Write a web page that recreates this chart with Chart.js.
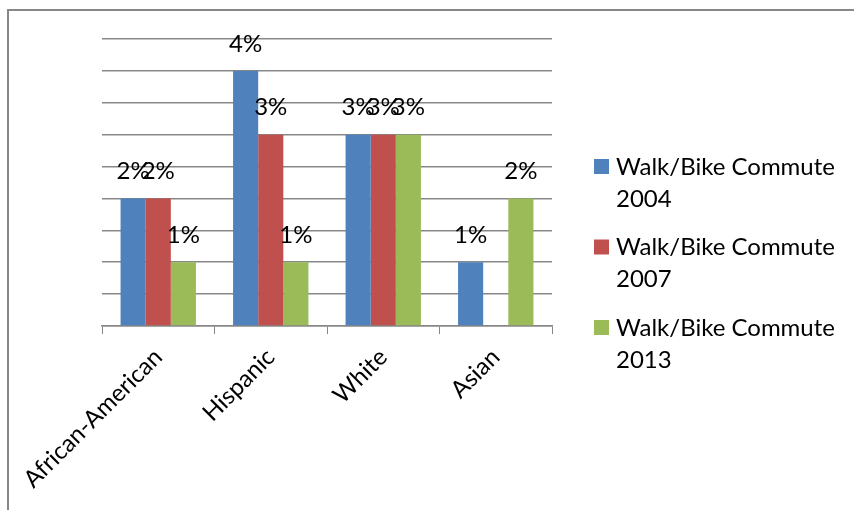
<!DOCTYPE html>
<html>
<head>
<meta charset="utf-8">
<script src="https://cdn.jsdelivr.net/npm/chart.js@4/dist/chart.umd.min.js"></script>
<style>
  html, body { margin: 0; padding: 0; background: #fff; }
  #wrap { position: relative; width: 854px; height: 510px; overflow: hidden; }
  #frame { position: absolute; left: 7px; top: 9px; width: 900px; height: 600px;
           border-left: 2px solid #878787; border-top: 2px solid #878787; }
  #chart { position: absolute; left: 0; top: 0; }
</style>
</head>
<body>
<div id="wrap">
  <div id="frame"></div>
  <canvas id="chart" width="854" height="510"></canvas>
</div>
<script>
// Walk/bike commute share by group (percent)
var categories = [ 'African-American', 'Hispanic', 'White', 'Asian' ];
var seriesNames = [ 'Walk/Bike Commute 2004', 'Walk/Bike Commute 2007', 'Walk/Bike Commute 2013' ];
var walkBike2004 = [ 2, 4, 3, 1 ];
var walkBike2007 = [ 2, 3, 3, null ];
var walkBike2013 = [ 1, 1, 3, 2 ];
var seriesColors = [ '#4F81BD', '#C0504D', '#9BBB59' ];

var FONT = 'Lato, "Open Sans", sans-serif';

// value labels above each bar ("2%")
var barLabels = {
	id: 'barLabels',
	afterDatasetsDraw: function ( chart ) {
		var ctx = chart.ctx;
		ctx.save();
		ctx.font = '24px ' + FONT;
		ctx.fillStyle = '#000';
		ctx.textAlign = 'center';
		ctx.textBaseline = 'middle';
		chart.data.datasets.forEach( function ( ds, i ) {
			chart.getDatasetMeta( i ).data.forEach( function ( bar, j ) {
				var v = ds.data[ j ];
				if ( v === null || v === undefined ) { return; }
				ctx.fillText( v + '%', bar.x, bar.y - 27 );
			} );
		} );
		ctx.restore();
	}
};

// legend on the right, two lines per entry
var sideLegend = {
	id: 'sideLegend',
	afterDraw: function ( chart ) {
		var ctx = chart.ctx;
		ctx.save();
		ctx.font = '24px ' + FONT;
		ctx.textAlign = 'left';
		ctx.textBaseline = 'middle';
		chart.data.datasets.forEach( function ( ds, i ) {
			var y = 167 + i * 80.5;
			var cut = ds.label.lastIndexOf( ' ' );
			ctx.fillStyle = ds.backgroundColor;
			ctx.fillRect( 594, y - 8, 15, 15 );
			ctx.fillStyle = '#000';
			ctx.fillText( ds.label.slice( 0, cut ), 616, y );
			ctx.fillText( ds.label.slice( cut + 1 ), 616, y + 32 );
		} );
		ctx.restore();
	}
};

new Chart( document.getElementById( 'chart' ), {
	type: 'bar',
	data: {
		labels: categories,
		datasets: [
			{ label: seriesNames[ 0 ], data: walkBike2004, backgroundColor: seriesColors[ 0 ] },
			{ label: seriesNames[ 1 ], data: walkBike2007, backgroundColor: seriesColors[ 1 ] },
			{ label: seriesNames[ 2 ], data: walkBike2013, backgroundColor: seriesColors[ 2 ] },
		],
	},
	options: {
		responsive: false,
		animation: false,
		devicePixelRatio: 1,
		layout: { padding: { left: 102, top: 39, right: 302, bottom: 0 } },
		datasets: { bar: { categoryPercentage: 0.67, barPercentage: 1.0 } },
		plugins: { legend: { display: false }, tooltip: { enabled: false } },
		scales: {
			x: {
				grid: { drawOnChartArea: false, color: '#878787', tickLength: 8, offset: true },
				border: { color: '#878787', width: 1.5 },
				ticks: { color: '#000', font: { family: FONT, size: 24 }, minRotation: 45, maxRotation: 45, padding: 9 },
				afterFit: function ( s ) { s.height = 184; s.paddingLeft = 0; s.paddingRight = 0; },
			},
			y: {
				min: 0,
				max: 4.5,
				ticks: { stepSize: 0.5, display: false },
				grid: { color: '#878787', lineWidth: 1.5, drawTicks: false },
				border: { display: false },
			},
		},
	},
	plugins: [ barLabels, sideLegend ],
} );
</script>
</body>
</html>
